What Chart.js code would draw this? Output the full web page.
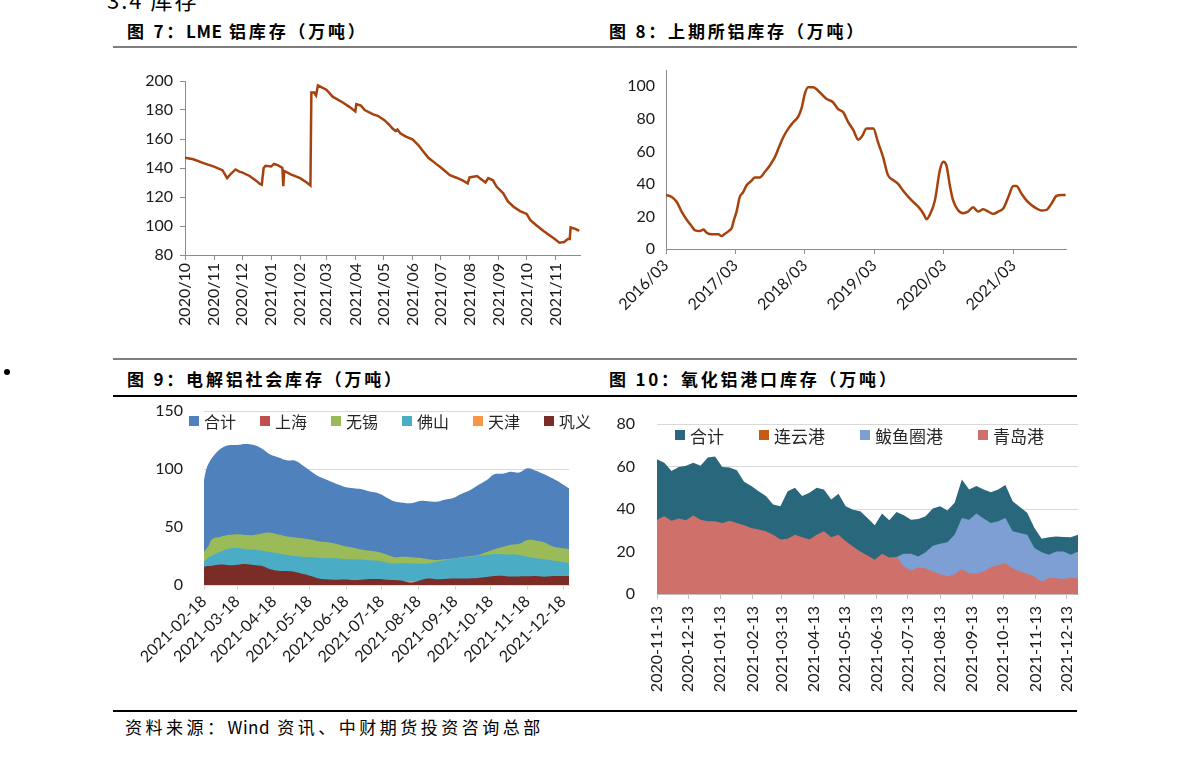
<!DOCTYPE html>
<html lang="zh-CN">
<head>
<meta charset="utf-8">
<title>库存</title>
<script src="https://cdn.jsdelivr.net/npm/chart.js@4.4.1/dist/chart.umd.min.js"></script>
<style>
  body { margin: 0; background: #fff; }
  #page { position: relative; width: 1191px; height: 758px; overflow: hidden; background: #fff;
          font-family: "Noto Sans CJK SC", sans-serif; color: #000; }
  .abs { position: absolute; white-space: nowrap; }
  .title { font-size: 17px; line-height: 20px; font-weight: 700; letter-spacing: 2.8px; }
  .title .lat { letter-spacing: 0.5px; }
  .rule { position: absolute; left: 113px; width: 964px; }
  .legend { position: absolute; display: flex; align-items: center; white-space: nowrap; color: #262626; }
  .legend .item { display: flex; align-items: center; }
  .legend .box { display: inline-block; width: 10px; height: 10px; margin-right: 5px; }
  canvas { position: absolute; }
</style>
</head>
<body>
<div id="page">
  <div class="abs" style="left:107px;top:-12px;font-size:22px;line-height:22px;letter-spacing:2px;">3.4 库存</div>
  <div class="abs title" style="left:127px;top:21px;">图 7：<span class="lat">LME</span> 铝库存（万吨）</div>
  <div class="abs title" style="left:609px;top:21px;">图 8：上期所铝库存（万吨）</div>
  <div class="rule" style="top:46px;height:2px;background:#7f7f7f;"></div>

  <canvas id="lme" width="460" height="285" style="left:130px;top:60px;"></canvas>
  <canvas id="shfe" width="470" height="285" style="left:610px;top:60px;"></canvas>

  <div class="abs" style="left:4px;top:369px;width:6px;height:6px;border-radius:3px;background:#000;"></div>
  <div class="rule" style="top:358px;height:2px;background:#7f7f7f;"></div>
  <div class="abs title" style="left:127px;top:369px;">图 9：电解铝社会库存（万吨）</div>
  <div class="abs title" style="left:609px;top:369px;">图 10：氧化铝港口库存（万吨）</div>
  <div class="rule" style="top:395px;height:1.5px;background:#000;"></div>

  <canvas id="social" width="480" height="300" style="left:120px;top:400px;"></canvas>
  <canvas id="port" width="490" height="300" style="left:600px;top:400px;"></canvas>
  <div id="socialLegend" class="legend" style="left:189px;top:411px;height:20px;font-size:16px;gap:24px;"></div>
  <div id="portLegend" class="legend" style="left:675px;top:425px;height:20px;font-size:17px;gap:35px;"></div>

  <div class="rule" style="top:710px;height:1.5px;background:#000;"></div>
  <div class="abs" style="left:125px;top:717px;font-size:17px;line-height:20px;letter-spacing:3.5px;">资料来源：<span style="letter-spacing:0.5px">Wind</span> 资讯、中财期货投资咨询总部</div>
</div>

<script>
// ---- data ----

// 图7 LME铝库存（万吨）
const lmeDates = [
  '2020-10-01', '2020-10-10', '2020-10-20', '2020-11-01', '2020-11-10', '2020-11-15', '2020-11-19',
  '2020-11-24', '2020-11-28', '2020-12-01', '2020-12-09', '2020-12-16', '2020-12-20', '2020-12-22',
  '2020-12-24', '2020-12-26', '2021-01-01', '2021-01-04', '2021-01-08', '2021-01-12', '2021-01-13',
  '2021-01-14', '2021-01-15', '2021-01-22', '2021-02-01', '2021-02-08', '2021-02-12', '2021-02-13',
  '2021-02-16', '2021-02-18', '2021-02-19', '2021-02-20', '2021-02-23', '2021-03-01', '2021-03-08',
  '2021-03-11', '2021-03-19', '2021-03-26', '2021-04-01', '2021-04-02', '2021-04-07', '2021-04-11',
  '2021-04-20', '2021-04-25', '2021-05-02', '2021-05-07', '2021-05-11', '2021-05-14', '2021-05-16',
  '2021-05-19', '2021-05-25', '2021-06-01', '2021-06-07', '2021-06-13', '2021-06-18', '2021-06-27',
  '2021-07-02', '2021-07-11', '2021-07-18', '2021-07-25', '2021-07-30', '2021-08-01', '2021-08-09',
  '2021-08-12', '2021-08-18', '2021-08-21', '2021-08-26', '2021-08-30', '2021-09-06', '2021-09-11',
  '2021-09-17', '2021-09-24', '2021-10-01', '2021-10-05', '2021-10-12', '2021-10-19', '2021-10-25',
  '2021-10-31', '2021-11-05', '2021-11-10', '2021-11-14', '2021-11-16', '2021-11-17', '2021-11-22',
  '2021-11-25', '2021-11-26'
];
const lmeValues = [
  147, 146, 143.5, 141, 138.5, 133, 136,
  139, 137.5, 137, 134.5, 131.3, 129, 128.5,
  140, 141.5, 141, 142.8, 142, 140.5, 140,
  127.5, 138, 135.6, 133, 130, 128, 192,
  192, 190, 190, 197, 196, 194, 189,
  188, 185, 182, 179, 184, 183, 180,
  177, 176, 173, 170, 167, 165.5, 166.5,
  164, 161.6, 159.8, 156, 151, 147, 142.5,
  140, 135, 133.3, 131.3, 129.4, 133.5, 134.5,
  133, 130, 133, 131.5, 127, 122.5, 117,
  113.3, 110.3, 108.3, 104, 100.2, 96.6, 93.8,
  91, 88.5, 89, 91, 91, 99, 98,
  97, 96.5
];
const lmeTicks = ['2020/10', '2020/11', '2020/12', '2021/01', '2021/02', '2021/03', '2021/04',
                  '2021/05', '2021/06', '2021/07', '2021/08', '2021/09', '2021/10', '2021/11'];

// 图8 上期所铝库存（万吨）
const shfeDates = [
  '2016-03-01', '2016-03-31', '2016-04-26', '2016-05-22', '2016-06-18', '2016-07-14', '2016-08-01',
  '2016-08-27', '2016-09-14', '2016-10-01', '2016-10-27', '2016-12-01', '2016-12-19', '2017-01-01',
  '2017-01-24', '2017-02-10', '2017-02-19', '2017-03-07', '2017-03-24', '2017-04-11', '2017-04-28',
  '2017-05-25', '2017-06-11', '2017-07-08', '2017-08-03', '2017-08-30', '2017-09-25', '2017-10-13',
  '2017-11-08', '2017-12-04', '2017-12-31', '2018-01-26', '2018-02-13', '2018-02-28', '2018-03-18',
  '2018-04-14', '2018-05-18', '2018-06-22', '2018-07-27', '2018-08-23', '2018-09-19', '2018-10-15',
  '2018-11-11', '2018-12-07', '2018-12-24', '2019-01-20', '2019-02-24', '2019-03-20', '2019-04-16',
  '2019-05-12', '2019-06-08', '2019-07-04', '2019-07-31', '2019-08-26', '2019-09-21', '2019-10-18',
  '2019-11-13', '2019-12-01', '2019-12-18', '2020-01-14', '2020-02-09', '2020-02-27', '2020-03-14',
  '2020-04-01', '2020-04-18', '2020-05-14', '2020-06-10', '2020-07-06', '2020-08-02', '2020-08-28',
  '2020-09-24', '2020-10-20', '2020-11-16', '2020-12-12', '2021-01-08', '2021-02-03', '2021-03-01',
  '2021-03-17', '2021-04-12', '2021-05-08', '2021-06-04', '2021-06-30', '2021-07-26', '2021-08-22',
  '2021-09-18', '2021-10-14', '2021-11-10', '2021-12-01'
];
const shfeValues = [
  33.2, 32, 29, 23, 18, 14, 11.4,
  11, 12, 10, 9, 9, 8, 9,
  11, 13, 17, 23, 32, 35, 39,
  42, 44, 44, 47.5, 51.5, 56.6, 61.7,
  68.8, 74, 78, 81.5, 87, 95, 99.4,
  99.4, 96.3, 92.3, 90.2, 86, 84, 78,
  73, 67.2, 68.8, 74, 74, 65.8, 56.6,
  45.4, 42.4, 40, 35.8, 32.2, 29, 26,
  22, 18.3, 21, 30, 48.5, 53.6, 51.5,
  39.3, 30, 24, 22, 23, 25.7, 23,
  24.4, 23, 21.6, 23, 25, 32, 38.7,
  38.7, 34.2, 30, 27, 25, 23.6, 24,
  28, 32.6, 33.2, 33.2
];
const shfeTicks = ['2016/03', '2017/03', '2018/03', '2019/03', '2020/03', '2021/03'];

// 图9 电解铝社会库存（万吨）
const socialDates = [
  '2021-02-18', '2021-02-20', '2021-02-22', '2021-02-25', '2021-03-04', '2021-03-11', '2021-03-18',
  '2021-03-25', '2021-04-01', '2021-04-08', '2021-04-15', '2021-04-22', '2021-04-29', '2021-05-06',
  '2021-05-13', '2021-05-20', '2021-05-27', '2021-06-03', '2021-06-10', '2021-06-17', '2021-06-24',
  '2021-07-01', '2021-07-08', '2021-07-15', '2021-07-22', '2021-07-29', '2021-08-05', '2021-08-12',
  '2021-08-19', '2021-08-26', '2021-09-02', '2021-09-09', '2021-09-16', '2021-09-23', '2021-09-30',
  '2021-10-07', '2021-10-14', '2021-10-21', '2021-10-28', '2021-11-04', '2021-11-11', '2021-11-18',
  '2021-11-25', '2021-12-02', '2021-12-09', '2021-12-16', '2021-12-23'
];
const socialTotal = [
  90.5, 100, 105, 110, 117.5, 120.5, 120.7, 121.5, 120.7, 117.5,
  112.5, 110, 107.5, 107.2, 102.5, 97.5, 93, 90, 87, 84.5,
  83.3, 82.5, 80.5, 79, 75.5, 72, 71, 70.5, 72.4, 72.2,
  71.8, 73.5, 75, 78.5, 81.5, 86, 90, 95.5, 96, 97.7,
  97, 100.6, 98.5, 95.5, 92, 88, 83.3
];
const socialShanghai = [];
const socialWuxi = [
  28.7, 31, 34, 39.7, 41.7, 43.1, 43.7, 43.1, 43.1, 44.5,
  45.1, 43.5, 41.8, 41, 40, 39, 37.5, 36.8, 35.3, 33.4,
  32.2, 30.6, 29.5, 28.5, 26.4, 24, 24.3, 24, 23.4, 22.3,
  21.6, 22.1, 22.8, 24, 24.8, 25.9, 28.3, 30.9, 32.7, 34.6,
  35.5, 38.8, 38.2, 36.8, 33.5, 32, 31
];
const socialFoshan = [
  20.1, 22, 24, 25.5, 28.9, 31.3, 32.2, 30.9, 30.5, 29.6,
  28.4, 27.1, 25.9, 24.9, 24.2, 23.9, 23.3, 23.1, 23, 22.2,
  22.1, 21.9, 21.3, 20.8, 19.5, 18.5, 18.7, 18.5, 18.4, 18.6,
  20.1, 21.4, 22.7, 23.6, 24.3, 25.2, 25.9, 26.7, 26.6, 26.3,
  25.9, 24.3, 23, 22.1, 21.2, 20.2, 18.7
];
const tianjinDates = ['2021-08-05', '2021-08-12', '2021-08-19'];
const socialTianjin = [3.4, 3.2, 3.5];
const socialGongyi = [
  15.8, 16.2, 16.4, 16.7, 17.6, 17, 17.5, 18.2, 17.2, 16.3,
  13.5, 12.2, 12, 11.2, 9.5, 7.5, 5.3, 4.7, 4.6, 4.8,
  4.3, 4.5, 5.1, 5.1, 4.6, 4.3, 3.5, 2, 3.8, 5.5,
  5, 5.2, 5.6, 5.7, 5.7, 6, 6.8, 7.7, 8, 7.3,
  7.4, 7.5, 7.8, 7.2, 7.8, 7.8, 7.8
];
const socialTicks = ['2021-02-18', '2021-03-18', '2021-04-18', '2021-05-18', '2021-06-18', '2021-07-18',
                     '2021-08-18', '2021-09-18', '2021-10-18', '2021-11-18', '2021-12-18'];

// 图10 氧化铝港口库存（万吨），周度，自 2020-11-13 起
const portFirstWeek = '2020-11-13';
const portTotal = [
  63.4, 61.8, 57.9, 59.8, 60.3, 61.8, 60.3, 64.2, 64.7, 59.8,
  59.5, 58.2, 52.8, 50.8, 48.4, 46.1, 42.1, 41.3, 48.4, 50,
  46.1, 47.6, 50, 49.2, 44.5, 47.2, 41.3, 39.7, 39, 35.8,
  32.3, 37.9, 34.7, 38.6, 37.1, 35, 35.3, 36.6, 40.2, 41.3,
  39.3, 42.9, 53.9, 49.2, 50.8, 49.2, 47.9, 49.2, 51.3, 43.7,
  40.9, 38.2, 31.1, 26, 26.7, 27.1, 26.8, 26.7, 27.9
];
const portLianyungang = [];
const portBayuquan = [
  null, null, null, null, null, null, null, null, null, null,
  null, null, null, null, null, null, null, null, null, null,
  null, null, null, null, null, null, null, null, null, null,
  null, null, null, 17.4, 18.9, 18.9, 17.7, 19.7, 22.7, 23.7,
  24.3, 27.9, 35.8, 35, 37.9, 35.5, 33.4, 34.2, 35.8, 29.5,
  28.7, 27.9, 21.6, 19.7, 18.5, 20, 20, 18.5, 20
];
const portQingdao = [
  35, 36.6, 34.5, 35.5, 34.7, 36.9, 35, 34.2, 34.2, 33.4,
  34.5, 33.4, 32.3, 31.1, 30.3, 29.5, 27.9, 25.6, 26, 27.9,
  26.7, 25.6, 27.9, 29.5, 26.7, 27.9, 24.8, 22.4, 20, 18.1,
  16.1, 18.9, 17.2, 17.4, 12.9, 10.9, 12.5, 12.1, 10.6, 9.3,
  8.2, 9.3, 11.8, 9.8, 9.5, 10.6, 12.6, 13.7, 14.5, 12.1,
  10.6, 9.5, 8.2, 5.8, 7.7, 7.4, 7.1, 7.7, 7.4
];
const portTicks = ['2020-11-13', '2020-12-13', '2021-01-13', '2021-02-13', '2021-03-13', '2021-04-13',
                   '2021-05-13', '2021-06-13', '2021-07-13', '2021-08-13', '2021-09-13', '2021-10-13',
                   '2021-11-13', '2021-12-13'];

// ---- helpers ----

const DAY = 86400000;
const TEXT = '#1a1a1a';
const LINE = '#A5420E';
const AXIS = '#8c8c8c';
const GRID = '#d9d9d9';

function toDay(s) {
  const p = s.split(/[-\/]/).map(Number);
  return Date.UTC(p[0], p[1] - 1, p[2] || 1) / DAY;
}

function points(dates, values) {
  return values.map((v, i) => ({ x: toDay(dates[i]), y: v }));
}

function weekly(first, values) {
  const d0 = toDay(first);
  return values.map((v, i) => ({ x: d0 + 7 * i, y: v }));
}

function dateAxis(labels, min, max, o) {
  const days = labels.map(toDay);
  return {
    type: 'linear',
    min: toDay(min),
    max: toDay(max),
    afterBuildTicks: s => { s.ticks = days.map(v => ({ value: v })); },
    ticks: {
      autoSkip: false, minRotation: o.rotation, maxRotation: o.rotation,
      padding: o.padding, color: TEXT, font: { size: o.size },
      callback: (v, i) => labels[i]
    },
    grid: { display: true, drawOnChartArea: false, drawTicks: true, tickLength: 5, tickColor: o.color },
    border: { display: true, color: o.color, width: 1 },
    afterFit: s => { s.height = o.height; s.paddingLeft = 0; s.paddingRight = 0; }
  };
}

function valueAxis(o) {
  return {
    min: o.min,
    max: o.max,
    afterBuildTicks: s => {
      const list = [];
      for (let v = o.min; v <= o.top; v += o.step) list.push({ value: v });
      s.ticks = list;
    },
    ticks: { padding: o.padding, color: TEXT, font: { size: o.size } },
    grid: o.grid,
    border: o.border,
    afterFit: s => { s.width = o.width; s.paddingTop = 0; s.paddingBottom = 0; }
  };
}

function baseOptions(padding, scales) {
  return {
    responsive: false,
    animation: false,
    devicePixelRatio: 1,
    layout: { padding: padding },
    plugins: { legend: { display: false }, tooltip: { enabled: false } },
    elements: { point: { radius: 0 } },
    scales: scales
  };
}

function area(label, data, color, order, tension) {
  return { label: label, data: data, backgroundColor: color, borderColor: color, borderWidth: 0,
           fill: 'origin', pointRadius: 0, tension: tension, order: order };
}

function htmlLegend(chart, id) {
  const el = document.getElementById(id);
  chart.data.datasets.forEach(ds => {
    const item = document.createElement('span');
    item.className = 'item';
    const box = document.createElement('span');
    box.className = 'box';
    box.style.background = ds.backgroundColor;
    item.appendChild(box);
    item.appendChild(document.createTextNode(ds.label));
    el.appendChild(item);
  });
}

Chart.defaults.font.family = 'Lato, "Noto Sans CJK SC", sans-serif';
Chart.defaults.color = TEXT;

// ---- 图7 ----
new Chart(document.getElementById('lme'), {
  type: 'line',
  data: { datasets: [{ label: 'LME铝库存', data: points(lmeDates, lmeValues), borderColor: LINE,
                       borderWidth: 2.5, pointRadius: 0, tension: 0, fill: false }] },
  options: baseOptions({ top: 21, right: 10, left: 0, bottom: 0 }, {
    x: dateAxis(lmeTicks, '2020-10-01', '2021-11-27', { rotation: 90, height: 90, size: 16, padding: 3, color: AXIS }),
    y: valueAxis({ min: 80, max: 200, top: 200, step: 20, padding: 7, size: 16, width: 55,
                   grid: { display: true, drawOnChartArea: false, drawTicks: true, tickLength: 5, tickColor: AXIS },
                   border: { display: true, color: AXIS } })
  })
});

// ---- 图8 ----
new Chart(document.getElementById('shfe'), {
  type: 'line',
  data: { datasets: [{ label: '上期所铝库存', data: points(shfeDates, shfeValues), borderColor: LINE,
                       borderWidth: 2.5, pointRadius: 0, tension: 0.4, cubicInterpolationMode: 'monotone', fill: false }] },
  options: baseOptions({ top: 10, right: 14, left: 0, bottom: 0 }, {
    x: dateAxis(shfeTicks, '2016-03-01', '2021-12-03', { rotation: 45, height: 96, size: 16, padding: 2, color: AXIS }),
    y: valueAxis({ min: 0, max: 110, top: 100, step: 20, padding: 11, size: 16, width: 56,
                   grid: { display: false, drawTicks: false },
                   border: { display: true, color: AXIS } })
  })
});

// ---- 图9 ----
const socialChart = new Chart(document.getElementById('social'), {
  type: 'line',
  data: { datasets: [
    area('合计', points(socialDates, socialTotal), '#4F81BD', 5, 0.4),
    area('上海', points(socialDates, socialShanghai), '#C0504D', 4, 0.4),
    area('无锡', points(socialDates, socialWuxi), '#9BBB59', 3, 0.4),
    area('佛山', points(socialDates, socialFoshan), '#4BACC6', 2, 0.4),
    area('天津', points(tianjinDates, socialTianjin), '#F79646', 1, 0.4),
    area('巩义', points(socialDates, socialGongyi), '#7B2C27', 0, 0.4)
  ] },
  options: baseOptions({ top: 11, right: 31, left: 0, bottom: 0 }, {
    x: dateAxis(socialTicks, '2021-02-18', '2021-12-23', { rotation: 45, height: 115, size: 16, padding: 2, color: GRID }),
    y: valueAxis({ min: 0, max: 150, top: 150, step: 50, padding: 21, size: 16, width: 84,
                   grid: { display: true, color: GRID, drawTicks: false },
                   border: { display: false } })
  })
});
htmlLegend(socialChart, 'socialLegend');

// ---- 图10 ----
const portChart = new Chart(document.getElementById('port'), {
  type: 'line',
  data: { datasets: [
    area('合计', weekly(portFirstWeek, portTotal), '#29687C', 3, 0),
    area('连云港', weekly(portFirstWeek, portLianyungang), '#C55A11', 2, 0),
    area('鲅鱼圈港', weekly(portFirstWeek, portBayuquan), '#7D9FD3', 1, 0),
    area('青岛港', weekly(portFirstWeek, portQingdao), '#D0706B', 0, 0)
  ] },
  options: baseOptions({ top: 24, right: 12, left: 0, bottom: 0 }, {
    x: dateAxis(portTicks, '2020-11-13', '2021-12-24', { rotation: 90, height: 106, size: 16, padding: 7, color: '#bfbfbf' }),
    y: valueAxis({ min: 0, max: 80, top: 80, step: 20, padding: 22, size: 16, width: 57,
                   grid: { display: true, color: GRID, drawTicks: false },
                   border: { display: false } })
  })
});
htmlLegend(portChart, 'portLegend');
</script>
</body>
</html>
